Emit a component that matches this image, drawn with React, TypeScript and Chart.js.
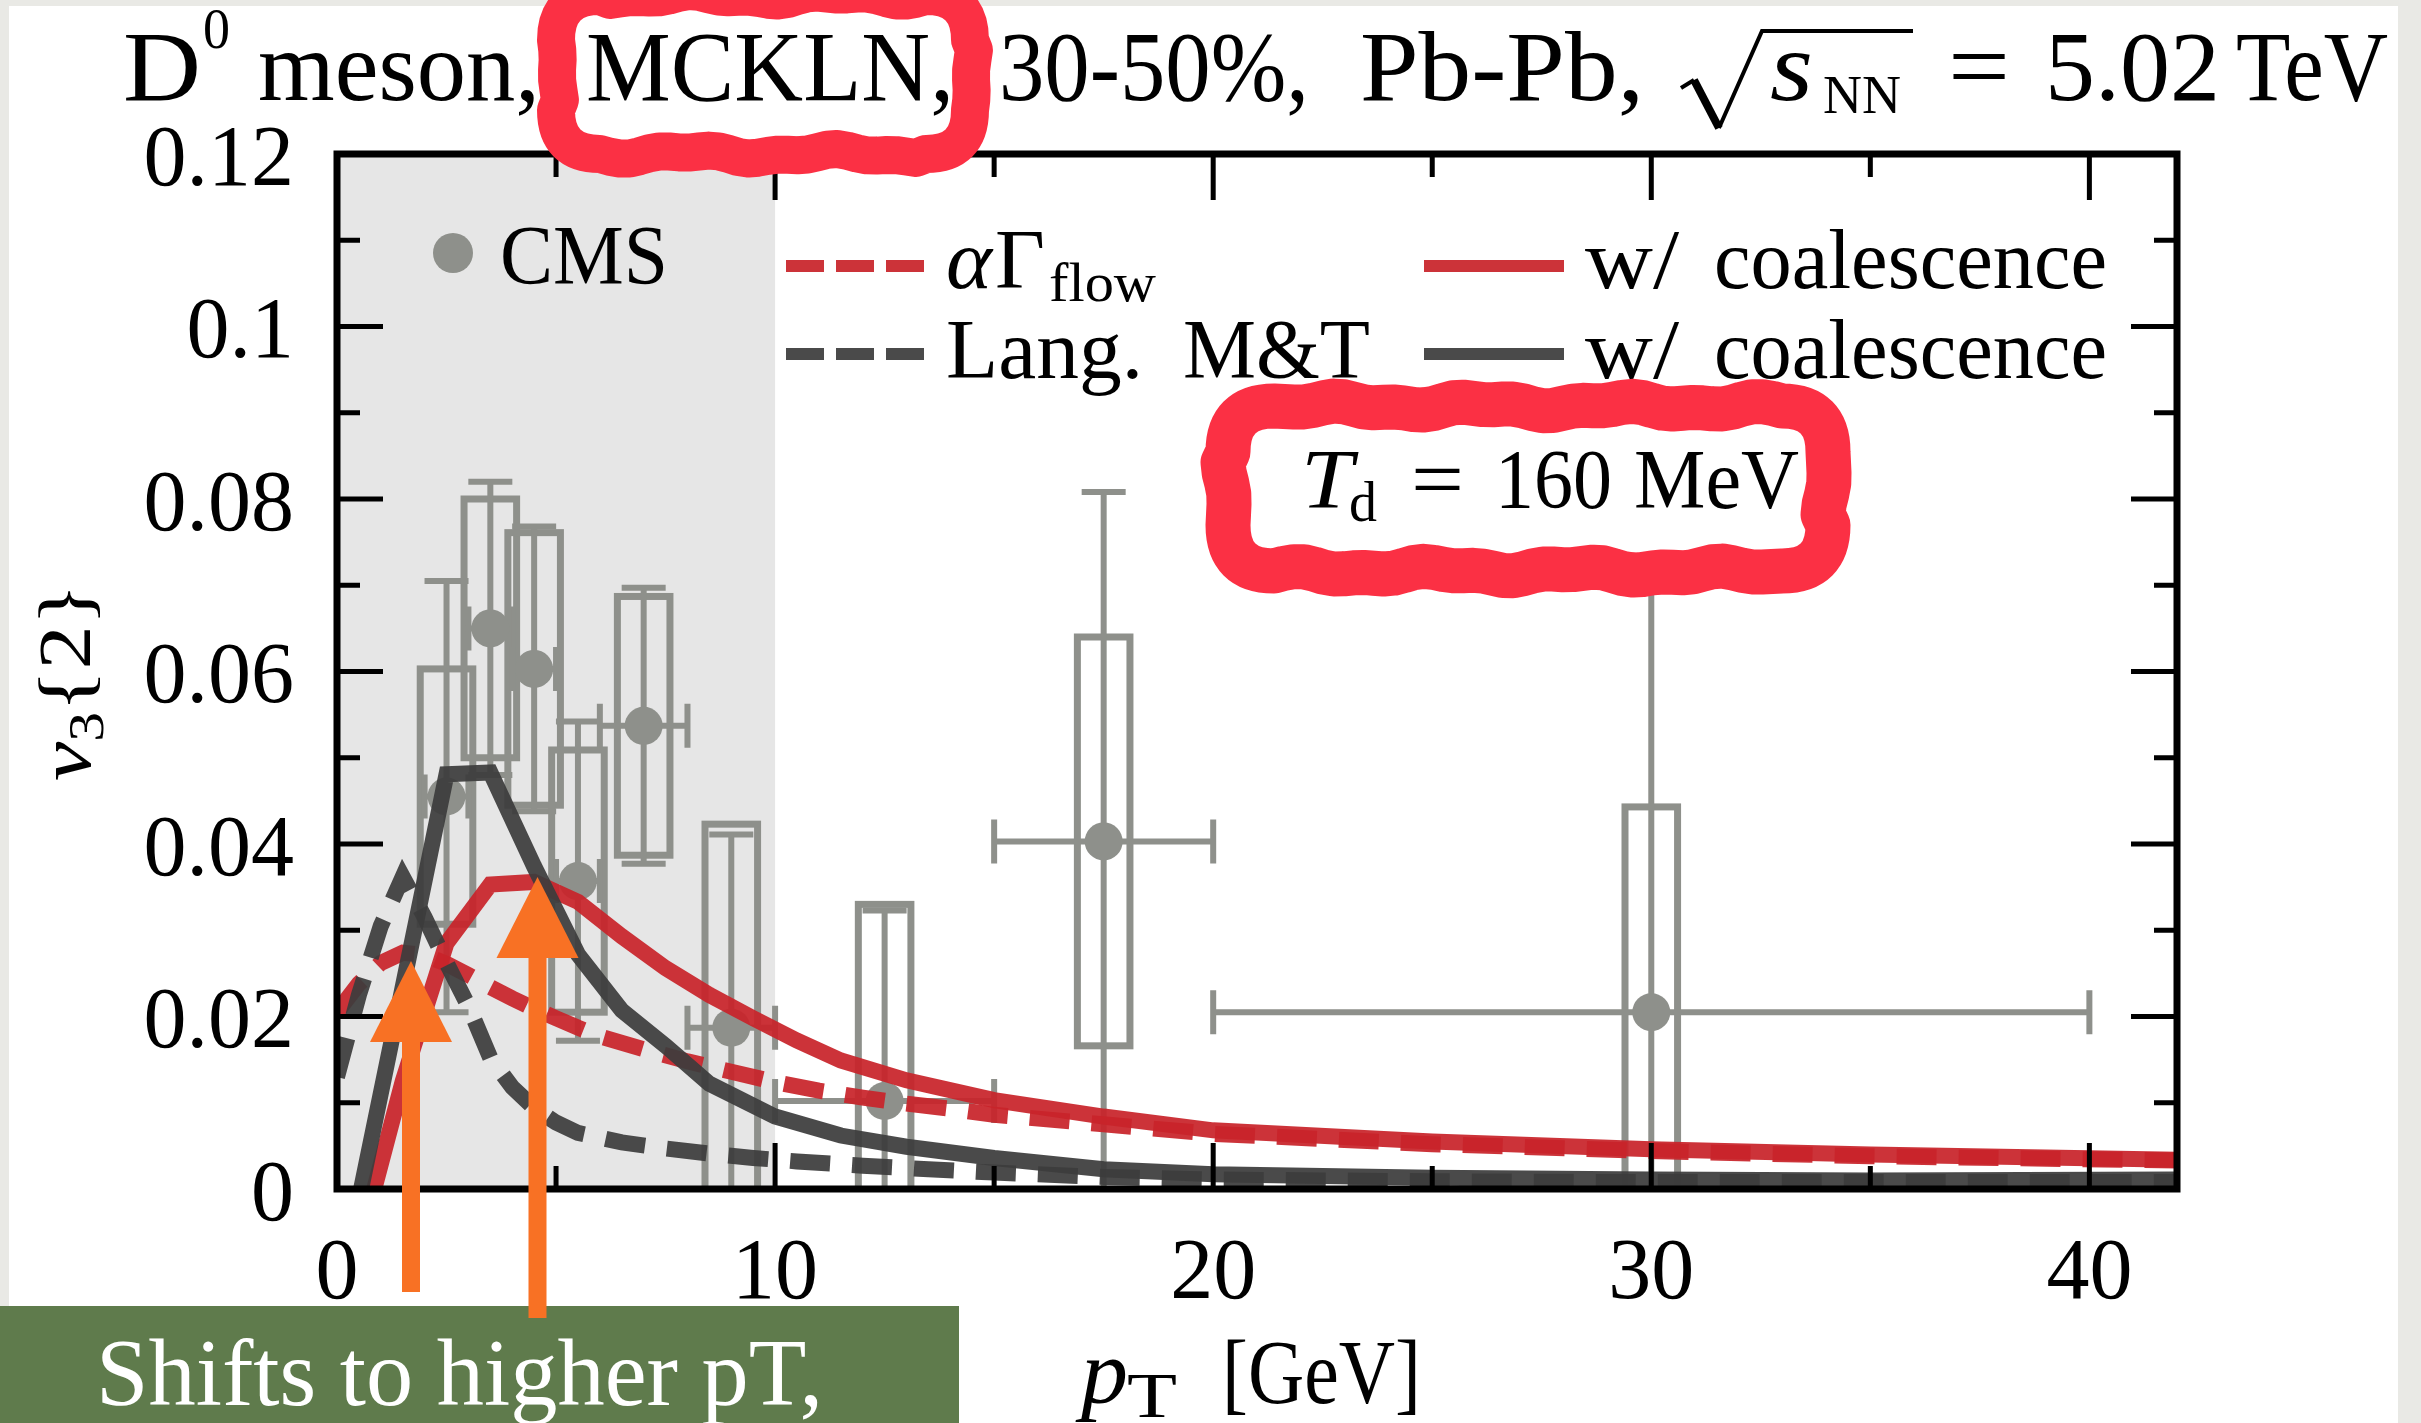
import React, { useEffect, useRef } from 'react';
import { Chart, registerables } from 'chart.js';

Chart.register(...registerables);

const W = 2421;
const H = 1423;

// plot frame (pixels)
const PLOT_LEFT = 337;
const PLOT_TOP = 154;
const PLOT_RIGHT = 2177;
const PLOT_BOTTOM = 1189;

// CMS D0 v3{2}, 30-50%
const CMS_PT = [2.5, 3.5, 4.5, 5.5, 7, 9, 12.5, 17.5, 30];
const CMS_V3 = [0.0455, 0.065, 0.0603, 0.0357, 0.0537, 0.0187, 0.0102, 0.0403, 0.0205];
const CMS_STAT = [0.025, 0.017, 0.0165, 0.0185, 0.016, 0.0224, 0.0221, 0.0405, 0.05];
const CMS_SYST = [0.0148, 0.015, 0.0158, 0.0152, 0.015, 0.0236, 0.0228, 0.0237, 0.0238];
const CMS_PT_LO = [2, 3, 4, 5, 6, 8, 10, 15, 20];
const CMS_PT_HI = [3, 4, 5, 6, 8, 10, 15, 20, 40];

// alpha Gamma_flow (dashed red)
const PT_ALPHA = [0, 0.5, 1, 1.5, 2, 2.5, 3, 3.5, 4, 4.5, 5, 5.5, 6, 7, 8, 9, 10, 11, 12, 13, 14, 15, 17.5, 20, 25, 30, 35, 42];
const V3_ALPHA = [0.0205, 0.0238, 0.0262, 0.0274, 0.0271, 0.0261, 0.0248, 0.0234, 0.0221, 0.0209, 0.0198, 0.0187, 0.0177, 0.0162, 0.0148, 0.0136, 0.0124, 0.0114, 0.0106, 0.0099, 0.0093, 0.0086, 0.0075, 0.0064, 0.0052, 0.0044, 0.0038, 0.0033];

// Langevin M&T (dashed dark)
const PT_LANG = [0, 0.5, 1, 1.5, 2, 2.5, 3, 3.5, 4, 4.5, 5, 5.5, 6.5, 7.5, 8.5, 9.5, 10.5, 12, 13.5, 15, 17.5, 20, 25, 30, 35, 42];
const V3_LANG = [0.013, 0.0225, 0.0305, 0.0362, 0.0315, 0.0262, 0.0212, 0.0152, 0.0118, 0.0094, 0.0077, 0.0065, 0.0054, 0.0047, 0.0041, 0.0036, 0.0032, 0.0027, 0.0023, 0.0019, 0.0014, 0.0011, 0.0009, 0.0008, 0.0008, 0.0008];

// alpha Gamma_flow with coalescence (solid red)
const PT_ALPHA_COAL = [0.85, 1.5, 2.5, 3.5, 4.5, 5.5, 6.5, 7.5, 8.5, 9.5, 10.5, 11.5, 13, 15, 17.5, 20, 25, 30, 35, 42];
const V3_ALPHA_COAL = [0, 0.0125, 0.0285, 0.0353, 0.0356, 0.0333, 0.0293, 0.0256, 0.0225, 0.0198, 0.0172, 0.0149, 0.0126, 0.0103, 0.0084, 0.0068, 0.0055, 0.0046, 0.004, 0.0034];

// Langevin M&T with coalescence (solid dark)
const PT_LANG_COAL = [0.55, 2.5, 3.5, 4.5, 5.5, 6.5, 7.5, 8.5, 10, 11.5, 13, 15, 17.5, 20, 25, 30, 35, 42];
const V3_LANG_COAL = [0, 0.0481, 0.0483, 0.0374, 0.0272, 0.0207, 0.0166, 0.0122, 0.0084, 0.0062, 0.0049, 0.0036, 0.0023, 0.0017, 0.0013, 0.0011, 0.001, 0.0011];

const X_TICKS = [0, 10, 20, 30, 40];
const X_TICK_LABELS = ['0', '10', '20', '30', '40'];
const X_MINOR = [5, 15, 25, 35];
const Y_TICKS = [0, 0.02, 0.04, 0.06, 0.08, 0.1, 0.12];
const Y_TICK_LABELS = ['0', '0.02', '0.04', '0.06', '0.08', '0.1', '0.12'];
const Y_MINOR = [0.01, 0.03, 0.05, 0.07, 0.09, 0.11];
const SHADE_RANGE = [0, 10];

const SERIF = '"Liberation Serif", "Times New Roman", serif';
const RED = 'rgba(200, 36, 42, 0.93)';
const DARK = 'rgba(60, 60, 60, 0.93)';
const GRAY = '#8e908b';
const SHADE = '#e6e6e6';
const HIGHLIGHT = '#fb3044';
const ORANGE = '#f87124';
const GREEN = '#5f7b4c';
const LINE_W = 16;
const LEGEND_LINE_W = 12;
const PLOT_DASH = [40, 22];
const LEGEND_DASH = [38, 12];
const BOX_HALF = 0.6; // half width of systematic boxes in pT
const CAP = 22;

const pts = (xs: number[], ys: number[]) => xs.map((x, i) => ({ x, y: ys[i] }));

// draw text starting at x on a baseline, squeezed/stretched to a given advance width
function put(ctx: CanvasRenderingContext2D, text: string, font: string, x: number, y: number, w?: number, color = '#000') {
  ctx.save();
  ctx.font = font;
  ctx.fillStyle = color;
  ctx.textAlign = 'left';
  ctx.textBaseline = 'alphabetic';
  ctx.translate(x, y);
  if (w) {
    const m = ctx.measureText(text).width;
    ctx.scale(w / m, 1);
  }
  ctx.fillText(text, 0, 0);
  ctx.restore();
}

function hline(ctx: CanvasRenderingContext2D, x0: number, x1: number, y: number, color: string, dash: number[]) {
  ctx.save();
  ctx.strokeStyle = color;
  ctx.lineWidth = LEGEND_LINE_W;
  ctx.lineCap = 'butt';
  ctx.setLineDash(dash);
  ctx.beginPath();
  ctx.moveTo(x0, y);
  ctx.lineTo(x1, y);
  ctx.stroke();
  ctx.restore();
}

// marker-pen style rounded box
function handBox(ctx: CanvasRenderingContext2D, x0: number, y0: number, x1: number, y1: number, r: number, lw: number, phase: number) {
  ctx.save();
  ctx.strokeStyle = HIGHLIGHT;
  ctx.lineWidth = lw;
  ctx.lineJoin = 'round';
  ctx.lineCap = 'round';
  const wob = (s: number) => 3.2 * Math.sin(s / 23 + phase) + 1.8 * Math.sin(s / 9.5 + phase * 2.1);
  const edge = (ax: number, ay: number, bx: number, by: number, nx: number, ny: number) => {
    const len = Math.hypot(bx - ax, by - ay);
    const n = Math.max(2, Math.round(len / 10));
    for (let i = 1; i <= n; i++) {
      const t = i / n;
      const k = i === n ? 0 : wob(t * len);
      ctx.lineTo(ax + (bx - ax) * t + nx * k, ay + (by - ay) * t + ny * k);
    }
  };
  ctx.beginPath();
  ctx.moveTo(x0 + r, y0);
  edge(x0 + r, y0, x1 - r, y0, 0, 1);
  ctx.quadraticCurveTo(x1, y0, x1, y0 + r);
  edge(x1, y0 + r, x1, y1 - r, 1, 0);
  ctx.quadraticCurveTo(x1, y1, x1 - r, y1);
  edge(x1 - r, y1, x0 + r, y1, 0, 1);
  ctx.quadraticCurveTo(x0, y1, x0, y1 - r);
  edge(x0, y1 - r, x0, y0 + r, 1, 0);
  ctx.quadraticCurveTo(x0, y0, x0 + r, y0);
  ctx.closePath();
  ctx.stroke();
  ctx.restore();
}

function arrowUp(ctx: CanvasRenderingContext2D, x: number, tipY: number, baseY: number, tailY: number, half: number, shaft: number) {
  ctx.save();
  ctx.fillStyle = ORANGE;
  ctx.fillRect(x - shaft / 2, baseY - 1, shaft, tailY - baseY + 1);
  ctx.beginPath();
  ctx.moveTo(x, tipY);
  ctx.lineTo(x - half, baseY);
  ctx.lineTo(x + half, baseY);
  ctx.closePath();
  ctx.fill();
  ctx.restore();
}

const figurePlugin = {
  id: 'figure',
  beforeDraw(chart: any) {
    const ctx: CanvasRenderingContext2D = chart.ctx;
    ctx.save();
    ctx.fillStyle = '#e9e9e5';
    ctx.fillRect(0, 0, W, H);
    ctx.fillStyle = '#ffffff';
    ctx.fillRect(9, 6, 2389, H - 6);
    ctx.restore();
  },
  beforeDatasetsDraw(chart: any) {
    const ctx: CanvasRenderingContext2D = chart.ctx;
    const a = chart.chartArea;
    const xs = chart.scales.x;
    const ys = chart.scales.y;
    ctx.save();
    ctx.beginPath();
    ctx.rect(a.left, a.top, a.right - a.left, a.bottom - a.top);
    ctx.clip();
    // shaded low-pT band
    const s0 = xs.getPixelForValue(SHADE_RANGE[0]);
    const s1 = xs.getPixelForValue(SHADE_RANGE[1]);
    ctx.fillStyle = SHADE;
    ctx.fillRect(s0, a.top, s1 - s0, a.bottom - a.top);
    // CMS systematic boxes and statistical bars
    ctx.strokeStyle = GRAY;
    CMS_PT.forEach((pt, i) => {
      const v = CMS_V3[i];
      const px = xs.getPixelForValue(pt);
      const py = ys.getPixelForValue(v);
      const bx0 = xs.getPixelForValue(pt - BOX_HALF);
      const bx1 = xs.getPixelForValue(pt + BOX_HALF);
      const by0 = ys.getPixelForValue(v + CMS_SYST[i]);
      const by1 = ys.getPixelForValue(v - CMS_SYST[i]);
      ctx.lineWidth = 7;
      ctx.strokeRect(bx0, by0, bx1 - bx0, by1 - by0);
      ctx.lineWidth = 6;
      const ty = ys.getPixelForValue(v + CMS_STAT[i]);
      const by = ys.getPixelForValue(v - CMS_STAT[i]);
      const lx = xs.getPixelForValue(CMS_PT_LO[i]);
      const rx = xs.getPixelForValue(CMS_PT_HI[i]);
      ctx.beginPath();
      ctx.moveTo(px, ty); ctx.lineTo(px, by);
      ctx.moveTo(px - CAP, ty); ctx.lineTo(px + CAP, ty);
      ctx.moveTo(px - CAP, by); ctx.lineTo(px + CAP, by);
      ctx.moveTo(lx, py); ctx.lineTo(rx, py);
      ctx.moveTo(lx, py - CAP); ctx.lineTo(lx, py + CAP);
      ctx.moveTo(rx, py - CAP); ctx.lineTo(rx, py + CAP);
      ctx.stroke();
    });
    ctx.restore();
  },
  afterDatasetsDraw(chart: any) {
    const ctx: CanvasRenderingContext2D = chart.ctx;
    const a = chart.chartArea;
    const xs = chart.scales.x;
    const ys = chart.scales.y;

    // frame with inward ticks on all four sides
    ctx.save();
    ctx.strokeStyle = '#000';
    ctx.lineWidth = 5;
    ctx.beginPath();
    const xt = (vals: number[], len: number) => vals.forEach((v) => {
      const p = xs.getPixelForValue(v);
      ctx.moveTo(p, a.bottom); ctx.lineTo(p, a.bottom - len);
      ctx.moveTo(p, a.top); ctx.lineTo(p, a.top + len);
    });
    const yt = (vals: number[], len: number) => vals.forEach((v) => {
      const p = ys.getPixelForValue(v);
      ctx.moveTo(a.left, p); ctx.lineTo(a.left + len, p);
      ctx.moveTo(a.right, p); ctx.lineTo(a.right - len, p);
    });
    xt(X_TICKS, 46); xt(X_MINOR, 23);
    yt(Y_TICKS, 46); yt(Y_MINOR, 23);
    ctx.stroke();
    ctx.lineWidth = 7;
    ctx.strokeRect(a.left, a.top, a.right - a.left, a.bottom - a.top);
    ctx.restore();

    // title
    const T = `100px ${SERIF}`;
    put(ctx, 'D', T, 123, 100, 78);
    put(ctx, '0', `56px ${SERIF}`, 203, 48, 27);
    put(ctx, 'meson,', T, 258, 100, 282);
    put(ctx, 'MCKLN,', T, 586, 100, 368);
    put(ctx, '30-50%,', T, 999, 100, 310);
    put(ctx, 'Pb-Pb,', T, 1360, 100, 284);
    ctx.save();
    ctx.strokeStyle = '#000';
    ctx.lineJoin = 'miter';
    ctx.lineWidth = 4;
    ctx.beginPath();
    ctx.moveTo(1681, 88); ctx.lineTo(1694, 80);
    ctx.stroke();
    ctx.lineWidth = 8;
    ctx.beginPath();
    ctx.moveTo(1694, 80); ctx.lineTo(1719, 128);
    ctx.stroke();
    ctx.lineWidth = 4;
    ctx.beginPath();
    ctx.moveTo(1719, 128); ctx.lineTo(1762, 31); ctx.lineTo(1913, 31);
    ctx.stroke();
    ctx.restore();
    put(ctx, 's', `italic 100px ${SERIF}`, 1770, 100, 43);
    put(ctx, 'NN', `54px ${SERIF}`, 1823, 113, 78);
    put(ctx, '=', T, 1948, 100, 62);
    put(ctx, '5.02', T, 2045, 100, 175);
    put(ctx, 'TeV', T, 2236, 100, 152);

    // legend
    const L = `84px ${SERIF}`;
    ctx.save();
    ctx.fillStyle = GRAY;
    ctx.beginPath();
    ctx.arc(453, 253, 20, 0, Math.PI * 2);
    ctx.fill();
    ctx.restore();
    put(ctx, 'CMS', L, 500, 284, 168);
    hline(ctx, 786, 924, 266, RED, LEGEND_DASH);
    put(ctx, '\u03b1', `italic 84px ${SERIF}`, 946, 288, 46);
    put(ctx, '\u0393', L, 995, 288, 50);
    put(ctx, 'flow', `54px ${SERIF}`, 1049, 301, 107);
    hline(ctx, 786, 924, 354, DARK, LEGEND_DASH);
    put(ctx, 'Lang.', L, 946, 378, 197);
    put(ctx, 'M&T', L, 1183, 378, 187);
    hline(ctx, 1424, 1564, 266, RED, []);
    put(ctx, 'w/', L, 1585, 288, 94);
    put(ctx, 'coalescence', L, 1714, 288, 393);
    hline(ctx, 1424, 1564, 354, DARK, []);
    put(ctx, 'w/', L, 1585, 378, 94);
    put(ctx, 'coalescence', L, 1714, 378, 393);

    // decoupling temperature
    put(ctx, 'T', `italic 84px ${SERIF}`, 1301, 508, 52);
    put(ctx, 'd', `56px ${SERIF}`, 1349, 521, 28);
    put(ctx, '=', L, 1411, 508, 53);
    put(ctx, '160', L, 1495, 508, 117);
    put(ctx, 'MeV', L, 1634, 508, 165);

    // axis titles
    ctx.save();
    ctx.translate(90, 682);
    ctx.rotate(-Math.PI / 2);
    ctx.fillStyle = '#000';
    const runs = [
      { t: 'v', f: `italic 74px ${SERIF}`, dy: 0 },
      { t: '3', f: `50px ${SERIF}`, dy: 13 },
      { t: '{2}', f: `74px ${SERIF}`, dy: 0 },
    ];
    let total = 0;
    const widths = runs.map((r) => { ctx.font = r.f; const w = ctx.measureText(r.t).width; total += w; return w; });
    const sc = 198 / total;
    ctx.scale(sc, 1);
    let cx = -total / 2;
    runs.forEach((r, i) => {
      ctx.font = r.f;
      ctx.fillText(r.t, cx, r.dy);
      cx += widths[i];
    });
    ctx.restore();
    put(ctx, 'p', `italic 92px ${SERIF}`, 1081, 1403, 47);
    put(ctx, 'T', `64px ${SERIF}`, 1127, 1417, 50);
    put(ctx, '[GeV]', `92px ${SERIF}`, 1222, 1403, 199);

    // slide annotations
    ctx.save();
    ctx.fillStyle = GREEN;
    ctx.fillRect(0, 1306, 959, H - 1306);
    ctx.restore();
    put(ctx, 'Shifts to higher pT,', `95px ${SERIF}`, 96, 1405, 727, '#ffffff');
    arrowUp(ctx, 411, 961, 1042, 1292, 41, 18);
    arrowUp(ctx, 537.5, 877, 958, 1318, 41, 18);
    handBox(ctx, 556, -4, 970, 154, 44, 38, 0.7);
    handBox(ctx, 1228, 406, 1828, 571, 46, 45, 2.1);
  },
};

export default function App() {
  const ref = useRef<HTMLCanvasElement>(null);

  useEffect(() => {
    if (!ref.current) return;
    const line = (label: string, xs: number[], ys: number[], color: string, dash: number[], order: number) => ({
      label,
      data: pts(xs, ys),
      borderColor: color,
      borderWidth: LINE_W,
      borderDash: dash,
      borderCapStyle: 'butt',
      borderJoinStyle: 'miter',
      pointRadius: 0,
      tension: 0,
      fill: false,
      order,
      clip: 0,
    });
    const chart = new Chart(ref.current, {
      type: 'line',
      data: {
        datasets: [
          line('Lang. M&T w/ coalescence', PT_LANG_COAL, V3_LANG_COAL, DARK, [], 0),
          line('Lang. M&T', PT_LANG, V3_LANG, DARK, PLOT_DASH, 1),
          line('\u03b1\u0393flow w/ coalescence', PT_ALPHA_COAL, V3_ALPHA_COAL, RED, [], 2),
          line('\u03b1\u0393flow', PT_ALPHA, V3_ALPHA, RED, PLOT_DASH, 3),
          { label: 'CMS', data: pts(CMS_PT, CMS_V3), showLine: false, pointRadius: 19, pointBackgroundColor: GRAY, pointBorderWidth: 0, borderColor: GRAY, order: 4, clip: 0 },
        ] as any,
      },
      options: {
        responsive: false,
        animation: false,
        devicePixelRatio: 1,
        events: [],
        layout: { padding: { left: 0, top: PLOT_TOP, right: W - PLOT_RIGHT, bottom: 0 } },
        plugins: { legend: { display: false }, tooltip: { enabled: false }, title: { display: false } },
        scales: {
          x: {
            type: 'linear',
            position: 'bottom',
            min: 0,
            max: 42,
            bounds: 'data',
            grid: { display: false },
            border: { display: false },
            afterFit: (s: any) => { s.height = H - PLOT_BOTTOM; },
            afterBuildTicks: (s: any) => { s.ticks = X_TICKS.map((value) => ({ value })); },
            ticks: {
              autoSkip: false,
              maxRotation: 0,
              minRotation: 0,
              padding: 27,
              color: '#000',
              font: { family: SERIF, size: 86 },
              callback: (_v: any, i: number) => X_TICK_LABELS[i],
            },
          },
          y: {
            type: 'linear',
            position: 'left',
            min: 0,
            max: 0.12,
            bounds: 'data',
            grid: { display: false },
            border: { display: false },
            afterFit: (s: any) => { s.width = PLOT_LEFT; },
            afterBuildTicks: (s: any) => { s.ticks = Y_TICKS.map((value) => ({ value })); },
            ticks: {
              autoSkip: false,
              padding: 35,
              labelOffset: 8,
              color: '#000',
              font: { family: SERIF, size: 86 },
              callback: (_v: any, i: number) => Y_TICK_LABELS[i],
            },
          },
        },
      } as any,
      plugins: [figurePlugin as any],
    });
    return () => chart.destroy();
  }, []);

  return (
    <div style={{ position: 'fixed', left: 0, top: 0, width: W, height: H, overflow: 'hidden' }}>
      <canvas ref={ref} width={W} height={H} style={{ width: W, height: H, display: 'block' }} />
    </div>
  );
}
